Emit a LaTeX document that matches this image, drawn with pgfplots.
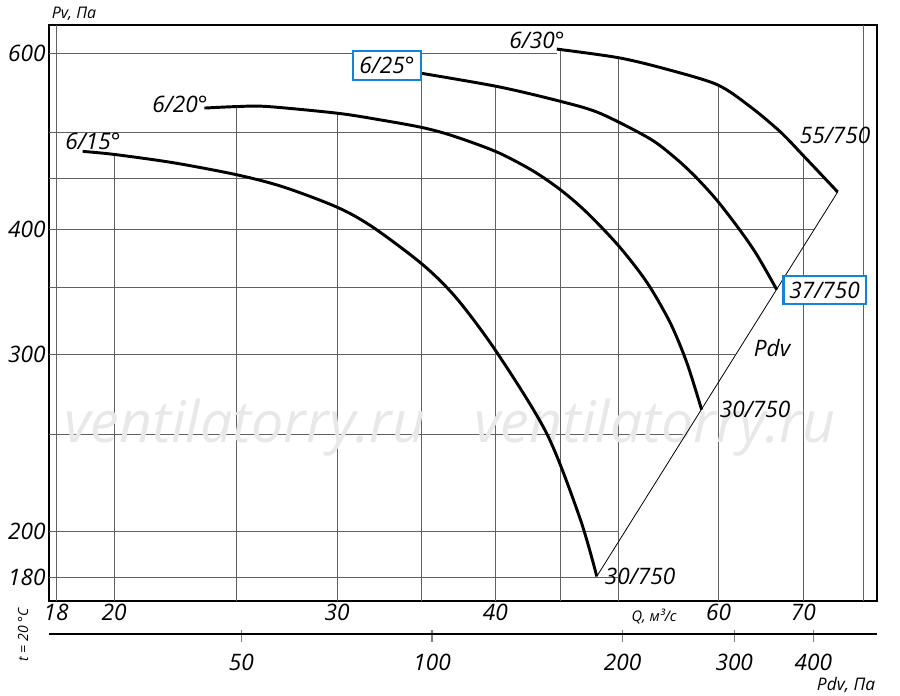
\documentclass[border=0pt]{standalone}
\usepackage{fontspec}
\setmainfont{Open Sans}
\usepackage{pgfplots}
\pgfplotsset{compat=1.18}
\definecolor{gridc}{gray}{0.38}
\definecolor{boxblue}{RGB}{18,132,214}
\definecolor{wm}{gray}{0.91}
\newcommand\lbl{\itshape\fontsize{17}{20}\selectfont}
\begin{document}
\begin{tikzpicture}
\useasboundingbox (-36.75pt,-71.25pt) rectangle (638.25pt,450.75pt);
\begin{axis}[at={(0pt,0pt)}, anchor=south west, scale only axis,
  width=621pt, height=432pt,
  xmode=log, ymode=log,
  xmin=17.77, xmax=80.03, ymin=170.5, ymax=640,
  xtick={18,20,30,40,60,70}, xticklabels={18,20,30,40,60,70},
  ytick={180,200,300,400,600}, yticklabels={180,200,300,400,600},
  minor xtick={}, minor ytick={},
  major tick length=0pt, minor tick length=0pt,
  axis line style={line width=1.5pt},
  ticklabel style={font=\lbl},
  xticklabel style={yshift=1pt},
  yticklabel style={xshift=1pt},
  clip=false]
% grid lines
\addplot[gridc, line width=0.7pt, forget plot] coordinates {(17.77,600) (44.72,600)};
\addplot[gridc, line width=0.7pt, forget plot] coordinates {(17.77,500) (67.2,500)};
\addplot[gridc, line width=0.7pt, forget plot] coordinates {(17.77,450) (72.9,450)};
\addplot[gridc, line width=0.7pt, forget plot] coordinates {(17.77,400) (71.36,400)};
\addplot[gridc, line width=0.7pt, forget plot] coordinates {(17.77,350) (66.75,350)};
\addplot[gridc, line width=0.7pt, forget plot] coordinates {(17.77,300) (61.80,300)};
\addplot[gridc, line width=0.7pt, forget plot] coordinates {(17.77,250) (56.41,250)};
\addplot[gridc, line width=0.7pt, forget plot] coordinates {(17.77,200) (50,200)};
\addplot[gridc, line width=0.7pt, forget plot] coordinates {(17.77,180) (50,180)};
\addplot[gridc, line width=0.7pt, forget plot] coordinates {(18,170.5) (18,640)};
\addplot[gridc, line width=0.7pt, forget plot] coordinates {(20,170.5) (20,475.4)};
\addplot[gridc, line width=0.7pt, forget plot] coordinates {(25,170.5) (25,530.6)};
\addplot[gridc, line width=0.7pt, forget plot] coordinates {(30,170.5) (30,522.5)};
\addplot[gridc, line width=0.7pt, forget plot] coordinates {(35,170.5) (35,573.2)};
\addplot[gridc, line width=0.7pt, forget plot] coordinates {(40,170.5) (40,556)};
\addplot[gridc, line width=0.7pt, forget plot] coordinates {(45,170.5) (45,605)};
\addplot[gridc, line width=0.7pt, forget plot] coordinates {(50,170.5) (50,593.8)};
\addplot[gridc, line width=0.7pt, forget plot] coordinates {(60,170.5) (60,557.5)};
\addplot[gridc, line width=0.7pt, forget plot] coordinates {(70,170.5) (70,474.1)};
\addplot[gridc, line width=0.7pt, forget plot] coordinates {(78.1,170.5) (78.1,640)};
% watermark
\node[font=\itshape\fontsize{43}{46}\selectfont, text=wm, anchor=base] at (rel axis cs:0.2367,0.2743) {ventilatorry.ru};
\node[font=\itshape\fontsize{43}{46}\selectfont, text=wm, anchor=base] at (rel axis cs:0.7319,0.2743) {ventilatorry.ru};
% Pdv line
\addplot[black, line width=0.6pt] coordinates {(48.09,180.4) (74.51,436.1)};
% 6/15
\addplot[black, line width=2.2pt, smooth] coordinates {
(18.89,478.7) (20.00,475.4) (22.27,466.4) (24.99,453.7) (27.20,441.2) (30.04,420.8)
(32.04,401.9) (35.06,369.0) (37.29,341.4) (40.11,301.6) (43.91,250.4)
(46.65,206.0) (48.09,180.4)};
% 6/20
\addplot[black, line width=2.2pt, smooth] coordinates {
(23.57,528.8) (24.99,530.6) (26.40,530.7) (30.04,522.5) (32.63,514.0) (35.06,505.5)
(37.06,495.9) (40.11,478.0) (42.83,457.7) (45.07,437.8) (47.22,416.1) (50.03,385.5)
(52.66,354.6) (54.94,323.2) (56.63,294.9) (58.19,264.5)};
% 6/25
\addplot[black, line width=2.2pt, smooth] coordinates {
(34.26,575.2) (40.11,555.7) (45.07,536.8) (48.37,522.5)
(52.98,492.7) (55.61,470.2) (57.67,450.3) (59.87,427.4) (62.39,399.5) (64.31,377.8)
(66.70,348.5)};
% 6/30
\addplot[black, line width=2.2pt, smooth] coordinates {
(44.72,605.5) (50.03,593.6) (54.61,578.1) (59.87,557.9) (63.53,530.7) (67.09,501.1)
(70.00,474.1) (74.51,436.1)};
% labels
\node[font=\lbl] at (rel axis cs:0.0531,0.7986) {6/15°};
\node[font=\lbl] at (rel axis cs:0.1582,0.8628) {6/20°};
\node[font=\lbl, draw=boxblue, line width=2pt, fill=white, inner sep=0pt,
  minimum width=51pt, minimum height=21.75pt] at (rel axis cs:0.4082,0.9297) {6/25°};
\node[font=\lbl] at (rel axis cs:0.5894,0.9740) {6/30°};
\node[font=\lbl] at (rel axis cs:0.9493,0.8090) {55/750};
\node[font=\lbl, draw=boxblue, line width=2pt, fill=white, inner sep=0pt,
  minimum width=62pt, minimum height=21pt] at (rel axis cs:0.9366,0.5399) {37/750};
\node[font=\lbl] at (rel axis cs:0.8732,0.4392) {Pdv};
\node[font=\lbl] at (rel axis cs:0.8527,0.3333) {30/750};
\node[font=\lbl] at (rel axis cs:0.7138,0.0434) {30/750};
\node[font=\itshape\fontsize{12}{14}\selectfont] at (rel axis cs:0.0302,1.0191) {Pv, Па};
\node[font=\itshape\fontsize{11}{13}\selectfont] at (rel axis cs:0.7307,-0.0278) {Q, м³/с};
\node[font=\itshape\fontsize{13}{15}\selectfont] at (rel axis cs:0.9626,-0.1458) {Pdv, Па};
\node[font=\itshape\fontsize{10.5}{13}\selectfont, rotate=90] at (rel axis cs:-0.0314,-0.059) {t = 20 °C};
\end{axis}
\begin{axis}[at={(0pt,-24.4pt)}, anchor=south west, scale only axis,
  width=621pt, height=10pt,
  xmode=log, xmin=24.85, xmax=504.1, ymin=0, ymax=1,
  hide y axis, axis x line*=bottom,
  axis line style={line width=1.5pt, -},
  xtick={50,100,200,300,400}, xticklabels={50,100,200,300,400},
  minor xtick={},
  tick align=center, major tick length=9pt,
  xtick style={line width=0.8pt, yshift=-1.5pt},
  ticklabel style={font=\lbl},
  xticklabel style={yshift=-7pt}]
\addplot[draw=none] coordinates {(50,0.5)};
\end{axis}
\end{tikzpicture}
\end{document}
